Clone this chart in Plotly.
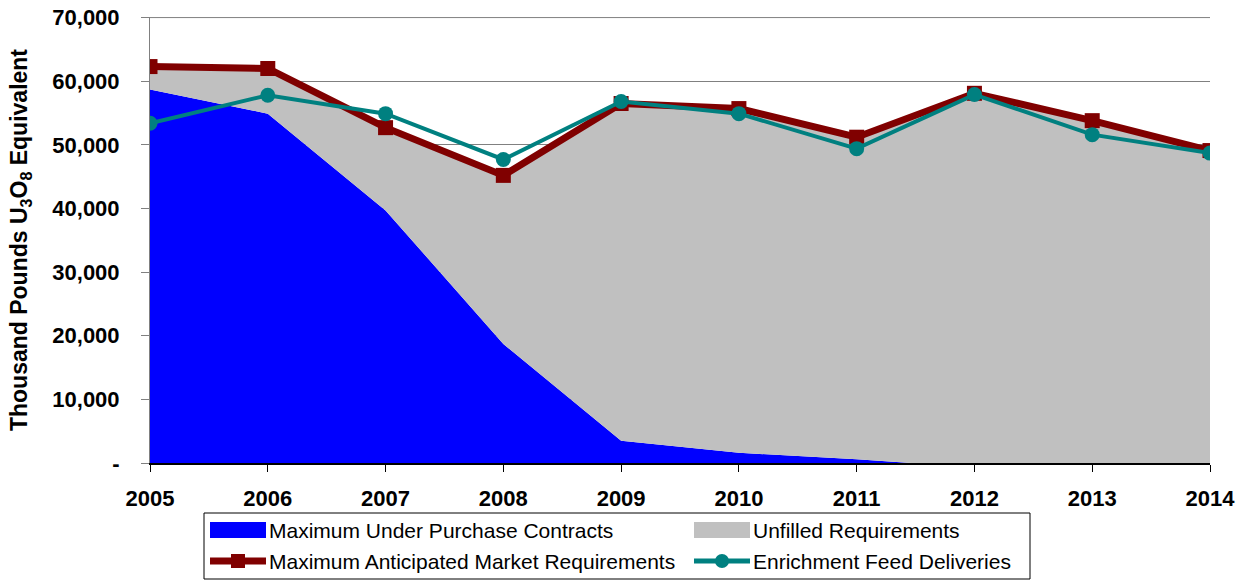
import plotly.graph_objects as go

years = [2005, 2006, 2007, 2008, 2009, 2010, 2011, 2012, 2013, 2014]

# thousand pounds U3O8 equivalent
purchase_contracts = [58700, 54900, 39700, 18700, 3500, 1600, 600, -700, -700, -700]
market_requirements = [62300, 62000, 52700, 45200, 56500, 55700, 51200, 58100, 53800, 49100]
feed_deliveries = [53400, 57800, 54900, 47700, 56800, 54900, 49400, 57900, 51600, 48700]
unfilled = [m - p for m, p in zip(market_requirements, purchase_contracts)]

ytick_vals = [0, 10000, 20000, 30000, 40000, 50000, 60000, 70000]
ytick_text = ['-', '10,000', '20,000', '30,000', '40,000', '50,000', '60,000', '70,000']

series_names = ['Maximum Under Purchase Contracts', 'Unfilled Requirements',
                'Maximum Anticipated Market Requirements', 'Enrichment Feed Deliveries']
BLUE, GREY, RED, TEAL = '#0000FF', '#C0C0C0', '#800000', '#008080'

FONT = 'Arial, Liberation Sans, sans-serif'
W, H = 1241, 580
L, R, T, B = 150, 31, 17, 117
PW, PH = W - L - R, H - T - B


def px(x):
    return (x - L) / PW


def py(y):
    return (H - B - y) / PH


fig = go.Figure()

fig.add_trace(go.Scatter(x=years, y=purchase_contracts, name=series_names[0],
                         stackgroup='req', mode='none', fillcolor=BLUE))
fig.add_trace(go.Scatter(x=years, y=unfilled, name=series_names[1],
                         stackgroup='req', mode='none', fillcolor=GREY))
fig.add_trace(go.Scatter(x=years, y=market_requirements, name=series_names[2],
                         mode='lines+markers', line=dict(color=RED, width=7),
                         marker=dict(symbol='square', size=15, color=RED)))
fig.add_trace(go.Scatter(x=years, y=feed_deliveries, name=series_names[3],
                         mode='lines+markers', line=dict(color=TEAL, width=4),
                         marker=dict(symbol='circle', size=15, color=TEAL)))

# top gridline (plotly drops the one sitting on the plot edge)
shapes = [dict(type='line', xref='paper', yref='y', x0=0, x1=1, y0=70000, y1=70000,
               line=dict(color='#808080', width=1), layer='below')]

# legend drawn by hand: 2 x 2 grid with wide swatches like the original
shapes.append(dict(type='rect', xref='paper', yref='paper', x0=px(204), x1=px(1030),
                   y0=py(513), y1=py(579), line=dict(color='black', width=1), fillcolor='white'))
annotations = []
cols = [208, 692]
rows = [530, 561]
for i, name in enumerate(series_names):
    x0 = cols[i % 2]
    yc = rows[i // 2]
    if i < 2:
        shapes.append(dict(type='rect', xref='paper', yref='paper', x0=px(x0 + 2), x1=px(x0 + 58),
                           y0=py(yc - 8), y1=py(yc + 8), line=dict(width=0),
                           fillcolor=[BLUE, GREY][i]))
    else:
        col = [RED, TEAL][i - 2]
        shapes.append(dict(type='line', xref='paper', yref='paper', x0=px(x0 + 2), x1=px(x0 + 58),
                           y0=py(yc), y1=py(yc), line=dict(color=col, width=[7, 5][i - 2])))
        if i == 2:
            shapes.append(dict(type='rect', xref='paper', yref='paper', x0=px(x0 + 23), x1=px(x0 + 37),
                               y0=py(yc - 7), y1=py(yc + 7), line=dict(width=0), fillcolor=col))
        else:
            shapes.append(dict(type='circle', xref='paper', yref='paper', x0=px(x0 + 23), x1=px(x0 + 37),
                               y0=py(yc - 7), y1=py(yc + 7), line=dict(width=0), fillcolor=col))
    annotations.append(dict(text=name, xref='paper', yref='paper', x=px(x0 + 59), y=py(yc),
                            xanchor='left', yanchor='middle', showarrow=False,
                            font=dict(size=21, family=FONT, color='black')))

fig.update_layout(
    width=W, height=H,
    margin=dict(l=L, r=R, t=T, b=B),
    plot_bgcolor='white', paper_bgcolor='white',
    font=dict(family=FONT, color='black'),
    showlegend=False,
    shapes=shapes,
    annotations=annotations,
)

fig.update_xaxes(range=[2005, 2014], tickvals=years, ticktext=[str(y) for y in years],
                 showgrid=False, showline=True, linecolor='black', linewidth=1.5,
                 ticks='outside', ticklen=7, tickcolor='black', automargin=False,
                 tickfont=dict(size=22, family=FONT, weight='bold'), ticklabelstandoff=8)
fig.update_yaxes(range=[0, 70090], tickvals=ytick_vals, ticktext=ytick_text,
                 showgrid=True, gridcolor='#808080', gridwidth=1,
                 showline=True, linecolor='#808080', linewidth=1,
                 ticks='outside', ticklen=8, tickcolor='#808080', automargin=False,
                 tickfont=dict(size=22, family=FONT, weight='bold'), ticklabelstandoff=17,
                 title=dict(text='Thousand Pounds U<sub>3</sub>O<sub>8</sub> Equivalent',
                            font=dict(size=23, family=FONT, weight='bold'), standoff=18))

fig.write_html("out.html", config={'displayModeBar': False},
               post_script="document.body.style.margin='0';")
